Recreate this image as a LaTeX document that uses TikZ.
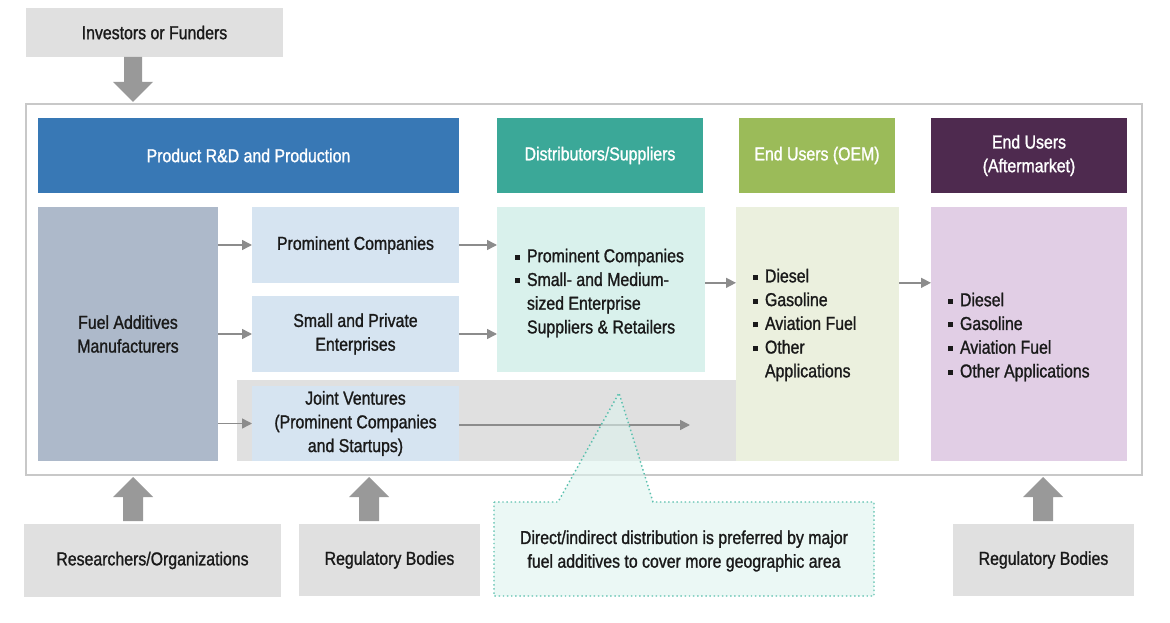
\documentclass[tikz,border=0pt]{standalone}
\usepackage{fontspec}
\setmainfont[FakeStretch=0.85,FakeBold=1.2]{Liberation Sans}
\usetikzlibrary{arrows.meta,calc}
\definecolor{hblue}{HTML}{3878B5}
\definecolor{hteal}{HTML}{3BA898}
\definecolor{hgreen}{HTML}{9BBB59}
\definecolor{hpurple}{HTML}{4E2A4F}
\definecolor{manuf}{HTML}{ADB9CA}
\definecolor{lblue}{HTML}{D6E4F1}
\definecolor{lteal}{HTML}{D9F1EC}
\definecolor{lgreen}{HTML}{EBF0DE}
\definecolor{lpurple}{HTML}{E1CEE5}
\definecolor{lgray}{HTML}{E0E0E0}
\definecolor{framec}{HTML}{C8C8C8}
\definecolor{arrc}{HTML}{8C8C8C}
\definecolor{bigarrc}{HTML}{999999}
\definecolor{callb}{HTML}{5BC0AE}
\definecolor{callf}{HTML}{DDF3EE}
\definecolor{txt}{HTML}{1A1A1A}
\newcommand\sqb{\makebox[9pt][l]{\raisebox{1.9pt}{\rule{3.7pt}{3.7pt}}}}
\newcommand\mybox[7]{\node[#6, minimum width={(#4-#2)*0.75pt}, minimum height={(#5-#3)*0.75pt}] (#1) at ({(#2+#4)/2},{(#3+#5)/2}) {#7};}
\begin{document}
\begin{tikzpicture}[x=0.75pt,y=-0.75pt,
  font=\fontsize{14}{17.8}\selectfont,
  base/.style={inner sep=0pt, outer sep=0pt, align=center, text=txt},
  graybox/.style={base, fill=lgray},
  head/.style={base, text=white},
  lst/.style={inner sep=0pt, outer sep=0pt, align=left, anchor=west, text=txt},
  smallarr/.style={draw=arrc, line width=1.1pt, -{Triangle[length=7.5pt,width=7.5pt]}},
  bigarr/.style={fill=bigarrc},
  callout/.style={draw=callb, line width=1.1pt, dotted, fill=callf, fill opacity=0.6}
]
\useasboundingbox (0,0) rectangle (1170,623);
% outer frame
\draw[framec, line width=1pt] (26,104) rectangle (1142,475);
% top
\mybox{inv}{26}{8}{283}{57}{graybox}{Investors or Funders}
\fill[bigarr] (124,57) -- (142,57) -- (142,82) -- (153,82) -- (133,102) -- (113,82) -- (124,82) -- cycle;
% headers
\mybox{hprod}{38}{118}{459}{193}{head, fill=hblue}{Product R\&D and Production}
\mybox{hdist}{497}{118}{703}{193}{head, fill=hteal}{Distributors/Suppliers}
\mybox{hoem}{739}{118}{895}{193}{head, fill=hgreen}{End Users (OEM)}
\mybox{haft}{931}{118}{1127}{193}{head, fill=hpurple}{End Users\\(Aftermarket)}
% band
\fill[lgray] (237,380) rectangle (739,461);
% body
\mybox{man}{38}{207}{218}{461}{base, fill=manuf}{Fuel Additives\\Manufacturers}
\mybox{prom}{252}{207}{459}{283}{base, fill=lblue}{Prominent Companies}
\mybox{small}{252}{296}{459}{372}{base, fill=lblue}{Small and Private\\Enterprises}
\mybox{jv}{252}{386}{459}{461}{base, fill=lblue}{Joint Ventures\\(Prominent Companies\\and Startups)}
\mybox{dist}{497}{207}{705}{372}{base, fill=lteal}{}
\mybox{oem}{736}{207}{899}{461}{base, fill=lgreen}{}
\mybox{aft}{931}{207}{1127}{461}{base, fill=lpurple}{}
\node[lst] (distT) at (515,293) {\sqb Prominent Companies\\\sqb Small- and Medium-\\\hspace*{9pt}sized Enterprise\\\hspace*{9pt}Suppliers \& Retailers};
\node[lst] (oemT) at (753,325) {\sqb Diesel\\\sqb Gasoline\\\sqb Aviation Fuel\\\sqb Other\\\hspace*{9pt}Applications};
\node[lst] (aftT) at (948,337) {\sqb Diesel\\\sqb Gasoline\\\sqb Aviation Fuel\\\sqb Other Applications};
% small arrows
\draw[smallarr] (man.east |- prom) -- (prom);
\draw[smallarr] (man.east |- small) -- (small);
\draw[smallarr] (man.east |- jv) -- (jv);
\draw[smallarr] (prom.east) -- (prom.east -| dist.west);
\draw[smallarr] (small.east) -- (small.east -| dist.west);
\draw[smallarr] ([yshift=5pt]dist.east) -- ([yshift=5pt]dist.east -| oem.west);
\draw[smallarr] ([yshift=5pt]dist.east -| oem.east) -- ([yshift=5pt]dist.east -| aft.west);
\coordinate (jvend) at (690,425);
\draw[smallarr] (jv.east |- jvend) -- (jvend);
% callout
\draw[callout] (494,502) -- (558,502) -- (619,393) -- (653,502) -- (874,502) -- (874,596) -- (494,596) -- cycle;
\node[base] (note) at (684,551) {Direct/indirect distribution is preferred by major\\fuel additives to cover more geographic area};
% bottom
\mybox{res}{24}{524}{281}{597}{graybox}{Researchers/Organizations}
\mybox{reg1}{299}{524}{480}{596}{graybox}{Regulatory Bodies}
\mybox{reg2}{953}{524}{1134}{596}{graybox}{Regulatory Bodies}
\fill[bigarr] (123,521) -- (143,521) -- (143,497) -- (153,497) -- (133,477) -- (113,497) -- (123,497) -- cycle;
\fill[bigarr] (359,521) -- (379,521) -- (379,497) -- (389,497) -- (369,477) -- (349,497) -- (359,497) -- cycle;
\fill[bigarr] (1033,521) -- (1053,521) -- (1053,497) -- (1063,497) -- (1043,477) -- (1023,497) -- (1033,497) -- cycle;
\end{tikzpicture}
\end{document}
